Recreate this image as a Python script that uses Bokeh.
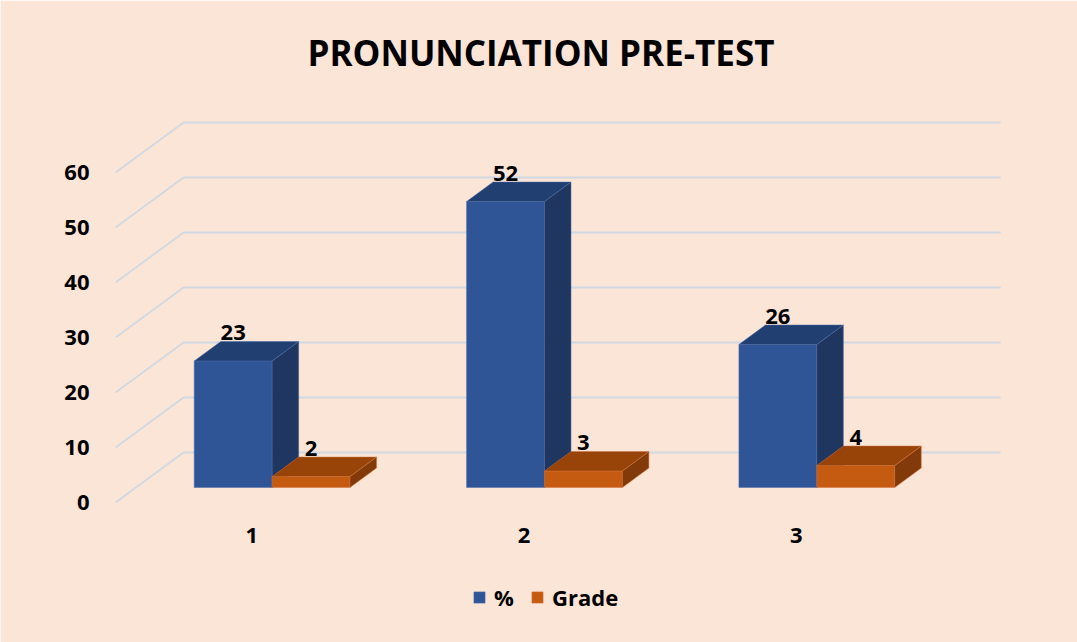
from bokeh.plotting import figure
from bokeh.models import ColumnDataSource, FixedTicker, Range1d, Legend, LegendItem
from bokeh.core.properties import value
from bokeh.embed import file_html
from bokeh.resources import INLINE

# ---- data ----
categories = ["1", "2", "3"]
pct_values = [23, 52, 26]
grade_values = [2, 3, 4]
series_names = ["%", "Grade"]
y_ticks = [0, 10, 20, 30, 40, 50, 60]
title_text = "PRONUNCIATION PRE-TEST"

# ---- style / geometry ----
FONT = "Open Sans"
BG = "#FBE5D6"
GRID = "#D0D8E2"
PX_Y = 5.5                      # pixels per value unit
DX, DY = 0.25, 50 / PX_Y        # full depth offset in data units
D0, D1 = 0.30, 0.69             # bar depth position (front, back)
BAR_W = 0.286
CAT_LABEL_Y = -6.0
SERIES_COLORS = {
    "%": ("#2F5597", "#223F72", "#1F3661"),       # front, top, side
    "Grade": ("#C55A11", "#984409", "#823A0A"),
}
EDGE = {"%": "#4A6BA6", "Grade": "#D5743A"}

n = len(categories)
W, H = 1077, 642
FRAME_L, FRAME_T, FRAME_B0 = 115, 80, 502   # frame left, frame top, pixel row of value 0
y_top = (FRAME_B0 - FRAME_T) / PX_Y
y_bot = -(H - FRAME_B0) / PX_Y

p = figure(width=W, height=H, output_backend="svg", toolbar_location=None,
           x_range=Range1d(0, 3.4), y_range=Range1d(y_bot, y_top),
           min_border_left=FRAME_L, min_border_right=W - FRAME_L - 926,
           min_border_top=FRAME_T, min_border_bottom=0,
           background_fill_color=BG, border_fill_color=BG,
           outline_line_color=BG, outline_line_width=2)

p.title.text = title_text
p.title.align = "left"
p.title.offset = 192
p.title.text_font = FONT
p.title.text_font_size = "35px"
p.title.text_font_style = "bold"
p.title.text_color = "#000000"

# ---- grid (back wall + side wall) ----
gx = [[0, DX, n + DX] for v in y_ticks]
gy = [[v, v + DY, v + DY] for v in y_ticks]
p.multi_line(xs=gx, ys=gy, line_color=GRID, line_width=1.8)


def pt(x, y, d):
    return x + d * DX, y + d * DY


lab_x, lab_y, lab_t = [], [], []
renderers = {}
for s, vals in zip(series_names, [pct_values, grade_values]):
    xs, ys, fills = [], [], []
    front_c, top_c, side_c = SERIES_COLORS[s]
    for i, cat in enumerate(categories):
        center = i + 0.5
        v = vals[i]
        xl = center - BAR_W if s == "%" else center
        xr = xl + BAR_W
        faces = [
            ([pt(xl, 0, D0), pt(xr, 0, D0), pt(xr, v, D0), pt(xl, v, D0)], front_c),
            ([pt(xr, 0, D0), pt(xr, 0, D1), pt(xr, v, D1), pt(xr, v, D0)], side_c),
            ([pt(xl, v, D0), pt(xr, v, D0), pt(xr, v, D1), pt(xl, v, D1)], top_c),
        ]
        for poly, c in faces:
            xs.append([q[0] for q in poly])
            ys.append([q[1] for q in poly])
            fills.append(c)
        lab_x.append((xl + xr) / 2 + D0 * DX)
        lab_y.append(v + D1 * DY)
        lab_t.append(str(v))
    src = ColumnDataSource(dict(xs=xs, ys=ys, fill=fills))
    renderers[s] = p.patches("xs", "ys", source=src, fill_color="fill", line_color=EDGE[s],
                             line_width=0.8, line_alpha=0.6)

lsrc = ColumnDataSource(dict(x=lab_x, y=lab_y, t=lab_t))
p.text("x", "y", text="t", source=lsrc, text_align="center", text_baseline="alphabetic",
       y_offset=-9,
       text_font=value(FONT), text_font_size="22px", text_font_style="bold", text_color="#000000")

# category labels (front plane, below the floor)
csrc = ColumnDataSource(dict(x=[i + 0.5 for i in range(n)], y=[CAT_LABEL_Y] * n, t=categories))
p.text("x", "y", text="t", source=csrc, text_align="center", text_baseline="middle",
       text_font=value(FONT), text_font_size="22px", text_font_style="bold", text_color="#000000")

# ---- axes ----
p.xgrid.visible = False
p.ygrid.visible = False
p.xaxis.visible = False
p.yaxis.ticker = FixedTicker(ticks=y_ticks)
p.yaxis.axis_line_color = None
p.yaxis.major_tick_line_color = None
p.yaxis.minor_tick_line_color = None
p.yaxis.major_label_text_font = FONT
p.yaxis.major_label_text_font_size = "22px"
p.yaxis.major_label_text_font_style = "bold"
p.yaxis.major_label_text_color = "#000000"
p.yaxis.major_label_standoff = 20

# ---- legend (front face of first bar of each series) ----
legend = Legend(items=[LegendItem(label=s, renderers=[renderers[s]], index=0) for s in series_names],
                orientation="horizontal", location=(357, 30),
                background_fill_alpha=0, border_line_color=None,
                glyph_width=14, glyph_height=14, label_standoff=8, spacing=16,
                padding=0, margin=0,
                label_text_font=FONT, label_text_font_size="22px",
                label_text_font_style="bold", label_text_color="#000000")
p.add_layout(legend)

open("out.html", "w").write(file_html(p, INLINE))
